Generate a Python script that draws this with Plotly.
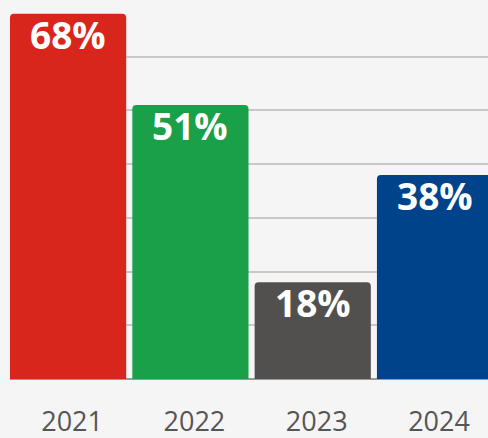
import plotly.graph_objects as go

years = ["2021", "2022", "2023", "2024"]
values = [68, 51, 18, 38]
colors = ["#d9261c", "#19a049", "#51504e", "#00438a"]
labels = [f"{v}%" for v in values]

fig = go.Figure(go.Bar(
    x=years, y=values,
    marker=dict(color=colors, cornerradius=4, line=dict(width=0)),
    hoverinfo="skip",
))

for i, (v, lab) in enumerate(zip(values, labels)):
    fig.add_annotation(
        x=i, y=v, xref="x", yref="y", text=lab, showarrow=False,
        xanchor="center", yanchor="top", yshift=7,
        font=dict(family="Open Sans", size=37, color="white", weight="bold"),
    )

fig.update_layout(
    width=488, height=438,
    margin=dict(l=10, r=0, t=3, b=59),
    paper_bgcolor="#f5f5f5", plot_bgcolor="#f5f5f5",
    bargap=0.05, showlegend=False,
)
fig.update_xaxes(
    type="category",
    range=[-0.475, 3.433], showgrid=False, showline=False, zeroline=False,
    tickfont=dict(family="Open Sans", size=27, color="#555555"),
    ticks="", ticklabelstandoff=24, ticklabelshift=4,
)
fig.update_yaxes(
    range=[0, 70], dtick=10, showticklabels=False, gridcolor="#c8c8c8", gridwidth=1.5,
    zeroline=True, zerolinecolor="#9a9a9a", zerolinewidth=1.5,
)

fig.write_html("out.html")
